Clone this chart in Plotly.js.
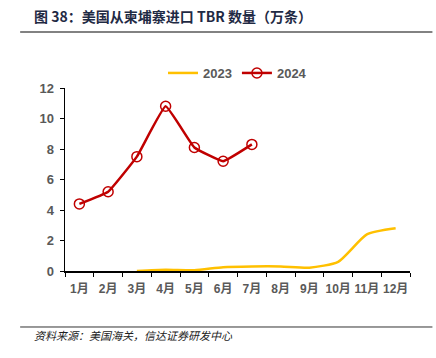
<!DOCTYPE html>
<html><head><meta charset="utf-8">
<script src="https://cdn.plot.ly/plotly-3.0.1.min.js"></script>
<style>body{margin:0;background:#fff}#c{width:436px;height:358px}</style>
</head><body><div id="c"></div>
<script>
const months = ["1月","2月","3月","4月","5月","6月","7月","8月","9月","10月","11月","12月"];
const months2023 = ["3月","4月","5月","6月","7月","8月","9月","10月","11月","12月"];
const values2023 = [0.0, 0.08, 0.05, 0.25, 0.3, 0.3, 0.22, 0.6, 2.4, 2.8];
const months2024 = ["1月","2月","3月","4月","5月","6月","7月"];
const values2024 = [4.4, 5.2, 7.5, 10.8, 8.1, 7.2, 8.3];
const yTicks = [0,2,4,6,8,10,12];
const titleText = "<b>图 38：美国从柬埔寨进口 TBR 数量（万条）</b>";
const sourceText = "<i>资料来源：美国海关，信达证券研发中心</i>";

const font = "Liberation Sans, Noto Sans CJK SC, sans-serif";
const data = [
  {x: months2023, y: values2023, name: "2023", type: "scatter", mode: "lines",
   line: {color: "#FFC000", width: 2.5, shape: "spline", smoothing: 0.6}},
  {x: months2024, y: values2024, name: "2024", type: "scatter", mode: "lines+markers",
   line: {color: "#C00000", width: 2.5, shape: "spline", smoothing: 0.3},
   marker: {symbol: "circle-open", size: 10, color: "#C00000", line: {width: 1.5, color: "#C00000"}}}
];
const layout = {
  width: 436, height: 358,
  margin: {l: 65, r: 26, t: 88, b: 87},
  paper_bgcolor: "#fff", plot_bgcolor: "#fff",
  font: {family: font, size: 12, color: "#595959"},
  showlegend: true,
  legend: {orientation: "h", x: 0.5, xanchor: "center", y: 1.082, yanchor: "middle",
    font: {size: 13, color: "#595959", family: font, weight: "bold"}, itemwidth: 30, traceorder: "normal"},
  xaxis: {type: "category", categoryorder: "array", categoryarray: months,
    range: [-0.5, 11.5], showline: true, linecolor: "#000", linewidth: 1.5,
    ticks: "outside", ticklen: 4, tickcolor: "#000", tickson: "boundaries", tickangle: 0,
    ticklabelstandoff: 6, showgrid: false, zeroline: false,
    tickfont: {size: 12, color: "#595959", family: font, weight: "bold"}},
  yaxis: {range: [0, 12], tickvals: yTicks, showline: true, linecolor: "#000", linewidth: 1.5,
    ticks: "outside", ticklen: 4, tickcolor: "#000", showgrid: false, zeroline: false,
    ticklabelstandoff: 3,
    tickfont: {size: 13, color: "#595959", family: font, weight: "bold"}},
  annotations: [
    {text: titleText, xref: "paper", yref: "paper", x: -0.0957, y: 1.393, xanchor: "left", yanchor: "middle",
     showarrow: false, font: {size: 14, color: "#1F2A44", family: "Noto Sans CJK SC, sans-serif"}},
    {text: sourceText, xref: "paper", yref: "paper", x: -0.0957, y: -0.35, xanchor: "left", yanchor: "middle",
     showarrow: false, font: {size: 11, color: "#222", family: "Noto Sans CJK SC, sans-serif"}}
  ],
  shapes: [
    {type: "line", xref: "paper", yref: "paper", x0: -0.13, x1: 1.065, y0: 1.306, y1: 1.306,
     line: {color: "#595959", width: 1.5}},
    {type: "line", xref: "paper", yref: "paper", x0: -0.13, x1: 1.065, y0: -0.306, y1: -0.306,
     line: {color: "#333", width: 1}}
  ]
};
Plotly.newPlot("c", data, layout, {displayModeBar: false, staticPlot: true});
</script></body></html>
